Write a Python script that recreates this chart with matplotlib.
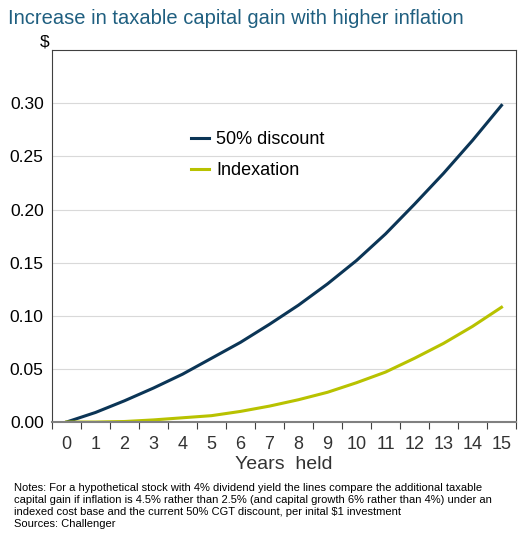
import matplotlib.pyplot as plt
import numpy as np

years = list(range(16))
discount_50 = [0.0, 0.009, 0.020, 0.032, 0.045, 0.060, 0.075, 0.092, 0.110,
               0.130, 0.152, 0.177, 0.205, 0.234, 0.265, 0.298]
indexation = [0.0, 0.0, 0.0005, 0.002, 0.004, 0.006, 0.010, 0.015, 0.021,
              0.028, 0.037, 0.047, 0.060, 0.074, 0.090, 0.108]

plt.rcParams['font.family'] = ['Liberation Sans', 'DejaVu Sans']

fig = plt.figure(figsize=(5.23, 5.39), dpi=100)
ax = fig.add_axes([0.0994, 0.217, 0.8872, 0.690])

ax.plot(years, discount_50, color='#0B3556', lw=2.2, label='50% discount')
ax.plot(years, indexation, color='#B8C200', lw=2.2, label='Indexation')

ax.set_xlim(-0.5, 15.5)
ax.set_ylim(0, 0.35)
ax.set_yticks(np.arange(0, 0.31, 0.05))
ax.set_yticklabels([f'{v:.2f}' for v in np.arange(0, 0.31, 0.05)])
ax.grid(axis='y', color='#D9D9D9', lw=0.8)
ax.set_axisbelow(True)
ax.tick_params(axis='y', length=0, labelsize=12.5, pad=6)

ax.set_xticks(np.arange(-0.5, 15.6, 1))
ax.set_xticklabels([])
ax.set_xticks(years, minor=True)
ax.set_xticklabels([str(y) for y in years], minor=True, fontsize=13, color='#333333')
ax.tick_params(axis='x', which='major', direction='out', length=5, color='#404040')
ax.tick_params(axis='x', which='minor', length=0, pad=10)
ax.set_xlabel('Years  held', fontsize=14, color='#333333', labelpad=2)

for s in ax.spines.values():
    s.set_color('#404040')
    s.set_linewidth(0.8)
ax.spines['bottom'].set_linewidth(1.5)
ax.spines['bottom'].set_color('#808080')

ax.legend(loc='upper left', bbox_to_anchor=(0.265, 0.825), frameon=False,
          fontsize=13, handlelength=1.0, handletextpad=0.4, labelspacing=0.75)

fig.text(0.015, 0.955, 'Increase in taxable capital gain with higher inflation',
         fontsize=14.5, color='#1F5F80')
fig.text(0.085, 0.913, '$', fontsize=12.5, ha='center')
fig.text(0.027, 0.103,
         'Notes: For a hypothetical stock with 4% dividend yield the lines compare the additional taxable\n'
         'capital gain if inflation is 4.5% rather than 2.5% (and capital growth 6% rather than 4%) under an\n'
         'indexed cost base and the current 50% CGT discount, per inital $1 investment\n'
         'Sources: Challenger',
         fontsize=8, va='top', linespacing=1.25)

fig.savefig('out.png', dpi=100)
